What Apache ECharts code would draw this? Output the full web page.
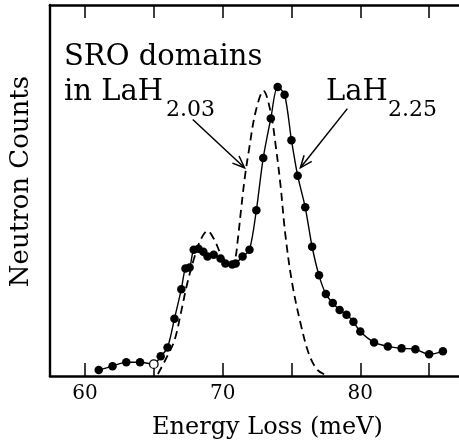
<!DOCTYPE html>
<html><head><meta charset="utf-8">
<script src="https://cdn.jsdelivr.net/npm/echarts@6/dist/echarts.min.js"></script>
<style>html,body{margin:0;padding:0;background:#fff}#c{width:459px;height:445px}</style>
</head><body><div id="c"></div>
<script>
// LaH2.25 measured points (energy in meV, counts arbitrary units)
const solidEnergy = [61.0,62.0,63.0,64.0,65.0,65.5,66.0,66.5,67.0,67.3,67.6,67.9,68.25,68.6,68.9,69.35,69.85,70.2,70.7,70.95,71.45,71.95,72.45,72.95,73.5,74.0,74.5,75.0,75.45,76.0,76.5,77.0,77.5,78.0,78.5,79.0,79.5,80.0,81.0,82.0,83.0,84.0,85.0,86.0];
const solidCounts = [6,10,14,14,12,20,29,58,88,109,110,128,129,126,121,123,119,114,113,114,121,128,168,221,261,293,285,239,203,171,131,102,83,74,67,62,55,45,34,30,28,27,22,25];
const openPointEnergy = [65.0];
// SRO domains in LaH2.03 (dashed curve)
const dashedEnergy = [65.3,65.9,66.5,67.0,67.4,67.9,68.4,68.9,69.4,69.85,70.3,70.6,70.9,71.1,71.35,71.6,71.9,72.4,72.97,73.48,73.85,74.2,74.55,75.05,75.7,76.3,76.9,77.5];
const dashedCounts = [2,18,36,66,92,118,138,147,138,124,114,111,118,138,170,200,228,268,289,268,234,194,144,94,51,21,6,1];
const tickValues = [60,65,70,75,80,85];
const tickLabels = [60,70,80];

const FONT = '"DejaVu Serif", "Liberation Serif", serif';
const chart = echarts.init(document.getElementById('c'), null, {renderer:'canvas'});

const solidData = solidEnergy.map((e,i) => {
  const item = {value:[e, solidCounts[i]]};
  if (openPointEnergy.includes(e)) item.itemStyle = {color:'#fff', borderColor:'#000', borderWidth:1.3};
  return item;
});
const dashedData = dashedEnergy.map((e,i) => [e, dashedCounts[i]]);

const xCommon = {
  type:'value', min:57.46, max:87.17,
  axisLine:{show:true, lineStyle:{color:'#000', width:2.6}},
  axisTick:{show:true, inside:true, length:13, customValues:tickValues, lineStyle:{color:'#000', width:1.5}},
  splitLine:{show:false}
};

chart.setOption({
  backgroundColor:'#fff',
  animation:false,
  grid:{left:49, right:0, top:5, bottom:64},
  xAxis:[
    Object.assign({}, xCommon, {
      position:'bottom',
      axisLabel:{show:true, customValues:tickLabels, margin:8, color:'#000', fontFamily:FONT, fontSize:20},
      name:'Energy Loss (meV)', nameLocation:'middle', nameGap:40,
      nameTextStyle:{color:'#000', fontFamily:FONT, fontSize:24, padding:[0,0,0,26]}
    }),
    Object.assign({}, xCommon, {
      position:'top', axisLabel:{show:false}
    })
  ],
  yAxis:{
    type:'value', min:0, max:376,
    axisLine:{show:true, lineStyle:{color:'#000', width:2.4}},
    axisTick:{show:false}, axisLabel:{show:false}, splitLine:{show:false},
    name:'Neutron Counts', nameLocation:'middle', nameGap:16,
    nameTextStyle:{color:'#000', fontFamily:FONT, fontSize:26, padding:[0,0,0,18]}
  },
  series:[
    {
      type:'line', name:'LaH2.03', data:dashedData, smooth:0.35, symbol:'none',
      lineStyle:{color:'#000', width:1.8, type:[8,5]}, z:2
    },
    {
      type:'line', name:'LaH2.25', data:solidData, smooth:0.3,
      symbol:'circle', symbolSize:8.5, showAllSymbol:true,
      itemStyle:{color:'#000'},
      lineStyle:{color:'#000', width:1.4}, z:3
    }
  ]
});

// annotation arrows, anchored in data coordinates
const arrows = [
  {from:[67.83,260], to:[71.59,211]},
  {from:[79.06,271], to:[75.65,211]}
];
const graphics = [];
arrows.forEach(a => {
  const p0 = chart.convertToPixel({xAxisIndex:0, yAxisIndex:0}, a.from);
  const p1 = chart.convertToPixel({xAxisIndex:0, yAxisIndex:0}, a.to);
  const dx = p0[0]-p1[0], dy = p0[1]-p1[1];
  const len = Math.hypot(dx,dy), ux = dx/len, uy = dy/len;
  const L = 13, ang = 22*Math.PI/180;
  const arm = s => [p1[0] + L*(ux*Math.cos(s*ang) - uy*Math.sin(s*ang)), p1[1] + L*(ux*Math.sin(s*ang) + uy*Math.cos(s*ang))];
  graphics.push({type:'polyline', shape:{points:[p0,p1]}, style:{stroke:'#000', lineWidth:1.5, fill:null}, z:10});
  graphics.push({type:'polyline', shape:{points:[arm(1),p1,arm(-1)]}, style:{stroke:'#000', lineWidth:1.5, fill:null}, z:10});
});
const txt = (t, x, y, size) => ({type:'text', x:x, y:y, z:10, style:{text:t, fill:'#000', font: size+'px '+FONT, verticalAlign:'middle', align:'left'}});
graphics.push(txt('SRO domains', 64, 57, 29));
graphics.push(txt('in LaH', 64, 92, 29));
graphics.push(txt('2.03', 166, 110, 22));
graphics.push(txt('LaH', 326, 92.5, 29));
graphics.push(txt('2.25', 388, 110, 22));
chart.setOption({graphic:graphics});
</script>
</body></html>
